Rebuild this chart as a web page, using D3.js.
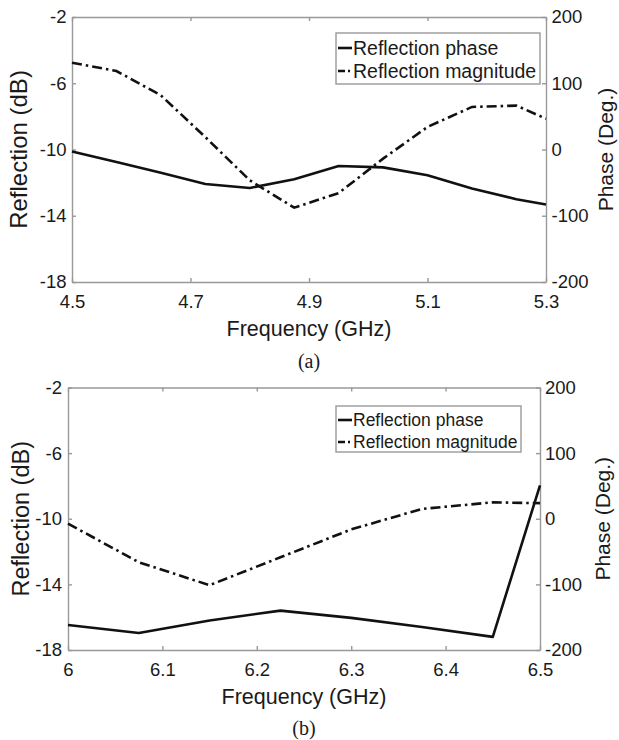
<!DOCTYPE html>
<html>
<head>
<meta charset="utf-8">
<script src="https://cdn.jsdelivr.net/npm/d3@7"></script>
<style>
  body { margin: 0; background: #fff; }
  svg { display: block; font-family: "Liberation Sans", Arial, sans-serif; }
  .axis path, .axis line { stroke: #999; stroke-width: 1.4; }
  .axis text { fill: #1a1a1a; }
</style>
</head>
<body>
<div id="chart"></div>
<script>
// panel (a)
var freqA = [4.5, 4.575, 4.65, 4.725, 4.8, 4.875, 4.95, 5.025, 5.1, 5.175, 5.25, 5.3];
var magA = [-4.76, -5.26, -6.73, -9.25, -11.86, -13.51, -12.63, -10.55, -8.64, -7.43, -7.35, -8.14];
var phaseA = [-3, -19, -35, -52, -58, -45, -25, -27, -39, -59, -75, -83];
var xTicksA = [4.5, 4.7, 4.9, 5.1, 5.3];

// panel (b)
var freqB = [6.0, 6.075, 6.15, 6.225, 6.3, 6.375, 6.45, 6.5];
var magB = [-10.3, -12.65, -14.05, -12.35, -10.65, -9.4, -9.0, -9.05];
var phaseB = [-162, -174, -155, -140, -151, -165, -180, 51];
var xTicksB = [6, 6.1, 6.2, 6.3, 6.4, 6.5];

var dbTicks = [-18, -14, -10, -6, -2];
var phaseTicks = [-200, -100, 0, 100, 200];
var legendLabels = ["Reflection phase", "Reflection magnitude"];

var svg = d3.select("#chart").append("svg")
  .attr("width", 619)
  .attr("height", 740);

function drawPanel(p) {
  var g = svg.append("g").attr("transform", "translate(" + p.left + "," + p.top + ")");
  var w = p.width, h = p.height;

  var x = d3.scaleLinear().domain(p.xDomain).range([0, w]);
  var yL = d3.scaleLinear().domain([-18, -2]).range([h, 0]);
  var yR = d3.scaleLinear().domain([-200, 200]).range([h, 0]);
  var fmt = function(d) { return String(d); };

  // axes (inward ticks, MATLAB-like box)
  g.append("g").attr("class", "axis").attr("transform", "translate(0," + h + ")")
    .call(d3.axisBottom(x).tickValues(p.xTicks).tickFormat(fmt).tickSize(-4).tickSizeOuter(0).tickPadding(13))
    .selectAll("text").style("font-size", "18.5px");
  g.append("g").attr("class", "axis")
    .call(d3.axisTop(x).tickValues(p.xTicks).tickFormat("").tickSize(-4).tickSizeOuter(0));
  g.append("g").attr("class", "axis")
    .call(d3.axisLeft(yL).tickValues(dbTicks).tickFormat(fmt).tickSize(-4).tickSizeOuter(0).tickPadding(p.padL))
    .selectAll("text").style("font-size", "18.5px");
  g.append("g").attr("class", "axis").attr("transform", "translate(" + w + ",0)")
    .call(d3.axisRight(yR).tickValues(phaseTicks).tickFormat(fmt).tickSize(-4).tickSizeOuter(0).tickPadding(p.padR))
    .selectAll("text").style("font-size", "18.5px");
  g.selectAll(".axis .domain").attr("stroke", "#999");

  // lines
  var magLine = d3.line().x(function(d, i) { return x(p.freq[i]); }).y(function(d) { return yL(d); });
  var phLine = d3.line().x(function(d, i) { return x(p.freq[i]); }).y(function(d) { return yR(d); });

  g.append("path").datum(p.mag)
    .attr("fill", "none").attr("stroke", "#111").attr("stroke-width", 2.6)
    .attr("stroke-dasharray", "10,4,2.5,4")
    .attr("d", magLine);
  g.append("path").datum(p.phase)
    .attr("fill", "none").attr("stroke", "#111").attr("stroke-width", 2.6)
    .attr("stroke-linejoin", "round")
    .attr("d", phLine);

  // legend
  var lg = svg.append("g").attr("transform", "translate(" + p.legX + "," + p.legY + ")");
  lg.append("rect").attr("width", p.legW).attr("height", p.legH)
    .attr("fill", "#fff").attr("stroke", "#999").attr("stroke-width", 1.4);
  legendLabels.forEach(function(t, i) {
    var cy = p.legRow[i];
    lg.append("line").attr("x1", 2).attr("x2", 16).attr("y1", cy).attr("y2", cy)
      .attr("stroke", "#111").attr("stroke-width", 2.6)
      .attr("stroke-dasharray", i === 1 ? "7,3,2,3" : null);
    lg.append("text").attr("x", 17).attr("y", cy).attr("dy", "0.35em")
      .style("font-size", p.legFont + "px").attr("fill", "#1a1a1a").text(t);
  });

  // titles
  svg.append("text").attr("x", p.left + w / 2).attr("y", p.top + h + p.xTitleDy)
    .attr("text-anchor", "middle").style("font-size", "21.5px").attr("fill", "#1a1a1a")
    .text("Frequency (GHz)");
  svg.append("text")
    .attr("transform", "translate(" + p.yTitleL + "," + (p.top + h / 2) + ") rotate(-90)")
    .attr("text-anchor", "middle").attr("dy", "0.35em").style("font-size", p.yFontL + "px").attr("fill", "#1a1a1a")
    .text("Reflection (dB)");
  svg.append("text")
    .attr("transform", "translate(" + p.yTitleR + "," + (p.top + h / 2) + ") rotate(-90)")
    .attr("text-anchor", "middle").attr("dy", "0.35em").style("font-size", "21px").attr("fill", "#1a1a1a")
    .text("Phase (Deg.)");
  svg.append("text").attr("x", p.left + w / 2).attr("y", p.capY)
    .attr("text-anchor", "middle").attr("dy", "0.35em")
    .style("font-family", "'Liberation Serif', 'Times New Roman', serif").style("font-size", "20px").attr("fill", "#1a1a1a")
    .text(p.caption);
}

drawPanel({
  left: 72, top: 17, width: 474, height: 265,
  xDomain: [4.5, 5.3], xTicks: xTicksA,
  freq: freqA, mag: magA, phase: phaseA,
  padL: 5.5, padR: 5.5,
  legX: 336, legY: 33, legW: 204, legH: 51, legRow: [15, 38], legFont: 19.5,
  xTitleDy: 54, yTitleL: 19, yFontL: 24, yTitleR: 605.5, capY: 361, caption: "(a)"
});

drawPanel({
  left: 68, top: 387.5, width: 472, height: 262.5,
  xDomain: [6, 6.5], xTicks: xTicksB,
  freq: freqB, mag: magB, phase: phaseB,
  padL: 6, padR: 5,
  legX: 336, legY: 406, legW: 185, legH: 46, legRow: [14, 36], legFont: 17.5,
  xTitleDy: 54, yTitleL: 21, yFontL: 23.5, yTitleR: 603, capY: 728, caption: "(b)"
});
</script>
</body>
</html>
